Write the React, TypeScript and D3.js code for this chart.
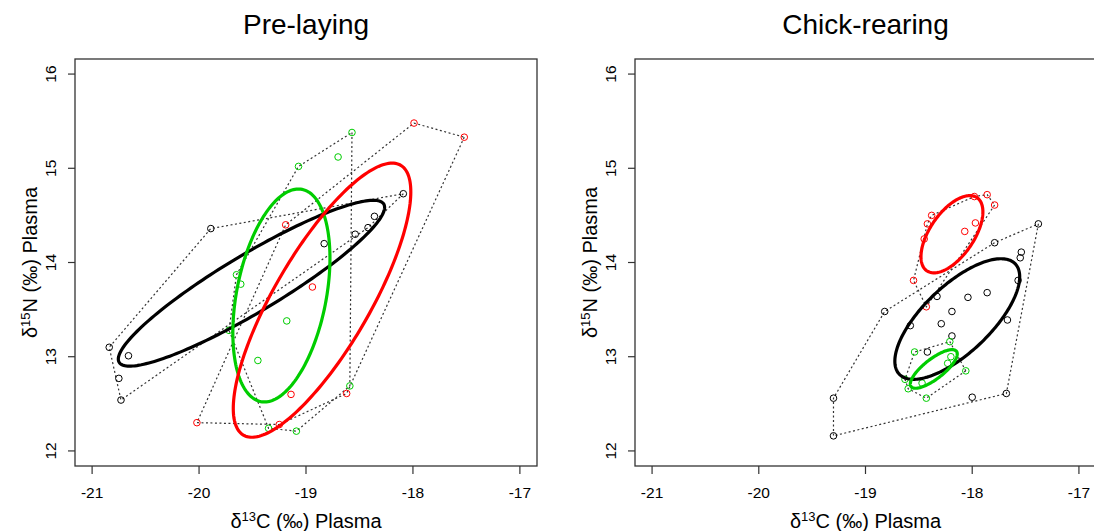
import React from "react";
import * as d3 from "d3";

// ---------- data ----------
const xTicks = [-21, -20, -19, -18, -17];
const yTicks = [12, 13, 14, 15, 16];
const panelTitles = ["Pre-laying", "Chick-rearing"];

const preBlack: [number, number][] = [
  [-20.84, 13.1], [-20.66, 13.01], [-20.75, 12.77], [-20.73, 12.54], [-19.89, 14.36],
  [-18.09, 14.73], [-18.36, 14.49], [-18.42, 14.37], [-18.54, 14.3], [-18.83, 14.2],
];
const preGreen: [number, number][] = [
  [-19.07, 15.02], [-18.57, 15.38], [-18.7, 15.12], [-19.65, 13.87], [-19.61, 13.77],
  [-19.72, 13.28], [-19.45, 12.96], [-19.35, 12.24], [-19.18, 13.38], [-18.59, 12.69],
  [-19.09, 12.21],
];
const preRed: [number, number][] = [
  [-17.99, 15.48], [-17.52, 15.33], [-19.19, 14.4], [-20.02, 12.3], [-18.94, 13.74],
  [-19.14, 12.6], [-18.62, 12.61], [-19.25, 12.28],
];

const chickBlack: [number, number][] = [
  [-17.38, 14.41], [-17.79, 14.21], [-17.54, 14.11], [-17.55, 14.05], [-17.57, 13.81],
  [-17.86, 13.68], [-18.04, 13.63], [-18.33, 13.64], [-18.19, 13.48], [-17.67, 13.39],
  [-18.29, 13.35], [-18.19, 13.22], [-17.68, 12.61], [-18.0, 12.57], [-18.82, 13.48],
  [-18.58, 13.33], [-18.42, 13.05], [-19.3, 12.56], [-19.3, 12.16],
];
const chickGreen: [number, number][] = [
  [-18.54, 13.05], [-18.21, 13.16], [-18.2, 13.0], [-18.23, 12.93], [-18.63, 12.76],
  [-18.6, 12.66], [-18.47, 12.72], [-18.43, 12.56], [-18.06, 12.85],
];
const chickRed: [number, number][] = [
  [-18.38, 14.5], [-18.42, 14.41], [-18.45, 14.25], [-18.55, 13.81], [-18.43, 13.53],
  [-17.79, 14.61], [-17.97, 14.42], [-18.07, 14.33], [-17.98, 14.7], [-17.86, 14.72],
];

// ellipse parameters: centre, sd x, sd y, correlation
const preEllipses = [
  { color: "#000000", cx: -19.51, cy: 13.78, sx: 1.245, sy: 0.88, rho: 0.915 },
  { color: "#00cd00", cx: -19.23, cy: 13.65, sx: 0.454, sy: 1.13, rho: 0.35 },
  { color: "#ff0000", cx: -18.85, cy: 13.6, sx: 0.83, sy: 1.455, rho: 0.79 },
];
const chickEllipses = [
  { color: "#000000", cx: -18.14, cy: 13.4, sx: 0.585, sy: 0.64, rho: 0.7 },
  { color: "#ff0000", cx: -18.19, cy: 14.3, sx: 0.29, sy: 0.41, rho: 0.58 },
  { color: "#00cd00", cx: -18.36, cy: 12.87, sx: 0.22, sy: 0.205, rho: 0.78 },
];

const preGroups = [
  { color: "#000000", pts: preBlack },
  { color: "#00cd00", pts: preGreen },
  { color: "#ff0000", pts: preRed },
];
const chickGroups = [
  { color: "#000000", pts: chickBlack },
  { color: "#00cd00", pts: chickGreen },
  { color: "#ff0000", pts: chickRed },
];

const FONT = "'Liberation Sans', Arial, sans-serif";

function Panel({ left, right, title, groups, ellipses }: any) {
  const top = 59;
  const bottom = 466;
  const x = d3.scaleLinear().domain([-21.16, -16.84]).range([left, right]);
  const y = d3.scaleLinear().domain([11.84, 16.16]).range([bottom, top]);
  const cxm = (left + right) / 2;
  const cym = (top + bottom) / 2;
  const line = d3.line<[number, number]>().x((d) => x(d[0])).y((d) => y(d[1]));
  const ellLine = d3
    .line<[number, number]>()
    .x((d) => x(d[0]))
    .y((d) => y(d[1]))
    .curve(d3.curveLinearClosed);
  const ellPts = (e: any) =>
    d3.range(0, 200).map((i) => {
      const t = (i / 200) * Math.PI * 2;
      return [
        e.cx + e.sx * Math.cos(t),
        e.cy + e.sy * (e.rho * Math.cos(t) + Math.sqrt(1 - e.rho * e.rho) * Math.sin(t)),
      ] as [number, number];
    });
  return (
    <g>
      <text x={cxm} y={34} textAnchor="middle" fontSize={28} fontFamily={FONT} fill="#000">
        {title}
      </text>
      <defs>
        <clipPath id={`clip${left}`}>
          <rect x={left} y={top} width={right - left} height={bottom - top} />
        </clipPath>
      </defs>
      <g clipPath={`url(#clip${left})`}>
        {groups.map((g: any, i: number) => {
          const hull = d3.polygonHull(g.pts) as [number, number][];
          return (
            <path
              key={"h" + i}
              d={line([...hull, hull[0]]) || ""}
              fill="none"
              stroke="#333"
              strokeWidth={1.2}
              strokeDasharray="2,2.5"
            />
          );
        })}
        {groups.map((g: any, i: number) =>
          g.pts.map((p: [number, number], j: number) => (
            <circle
              key={`p${i}-${j}`}
              cx={x(p[0])}
              cy={y(p[1])}
              r={3.3}
              fill="none"
              stroke={g.color}
              strokeWidth={1}
            />
          ))
        )}
        {ellipses.map((e: any, i: number) => (
          <path key={"e" + i} d={ellLine(ellPts(e)) || ""} fill="none" stroke={e.color} strokeWidth={3.2} />
        ))}
      </g>
      <rect x={left} y={top} width={right - left} height={bottom - top} fill="none" stroke="#333" strokeWidth={1.3} />
      {xTicks.map((t) => (
        <g key={"xt" + t}>
          <line x1={x(t)} x2={x(t)} y1={bottom} y2={bottom + 8} stroke="#333" strokeWidth={1.2} />
          <text x={x(t)} y={498} textAnchor="middle" fontSize={15.5} fontFamily={FONT} fill="#000">
            {t}
          </text>
        </g>
      ))}
      {yTicks.map((t) => (
        <g key={"yt" + t}>
          <line x1={left} x2={left - 7} y1={y(t)} y2={y(t)} stroke="#333" strokeWidth={1.2} />
          <text
            transform={`translate(${left - 19},${y(t)}) rotate(-90)`}
            textAnchor="middle"
            fontSize={15.5}
            fontFamily={FONT}
            fill="#000"
          >
            {t}
          </text>
        </g>
      ))}
      <text x={cxm} y={528} textAnchor="middle" fontSize={20} fontFamily={FONT} fill="#000">
        δ<tspan fontSize={13} dy={-7}>13</tspan>
        <tspan dy={7}>C (‰) Plasma</tspan>
      </text>
      <text
        transform={`translate(${left - 38},${cym}) rotate(-90)`}
        textAnchor="middle"
        fontSize={20}
        fontFamily={FONT}
        fill="#000"
      >
        δ<tspan fontSize={13} dy={-7}>15</tspan>
        <tspan dy={7}>N (‰) Plasma</tspan>
      </text>
    </g>
  );
}

export default function App() {
  return (
    <svg
      width={1094}
      height={531}
      style={{ position: "absolute", left: 0, top: 0, background: "#fff" }}
    >
      <rect width={1094} height={531} fill="#fff" />
      <Panel left={75} right={537} title={panelTitles[0]} groups={preGroups} ellipses={preEllipses} />
      <Panel left={635} right={1096} title={panelTitles[1]} groups={chickGroups} ellipses={chickEllipses} />
    </svg>
  );
}
